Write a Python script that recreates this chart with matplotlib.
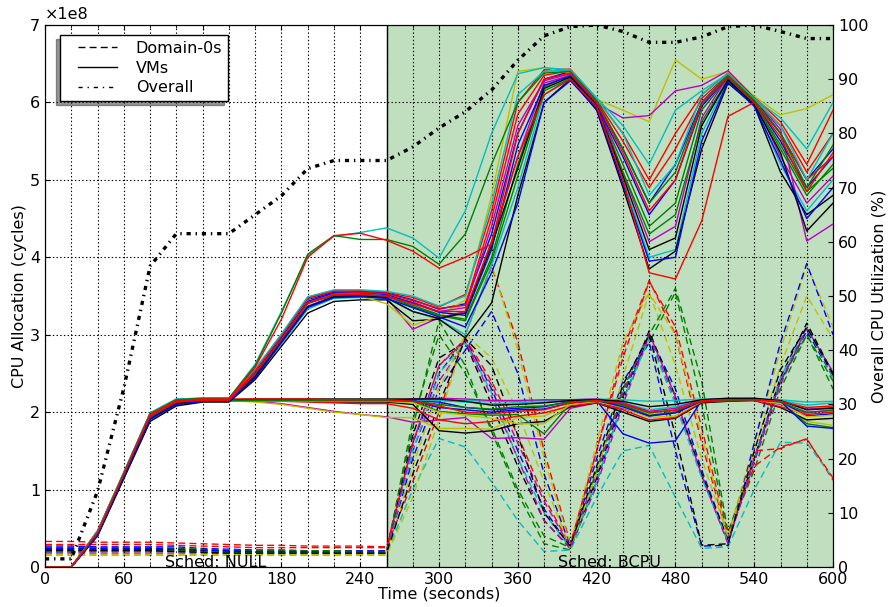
import matplotlib
matplotlib.use('Agg')
import matplotlib.pyplot as plt
from matplotlib.lines import Line2D
from matplotlib.legend_handler import HandlerLine2D
from matplotlib.ticker import FuncFormatter
import numpy as np

plt.rcParams['font.family'] = ['DejaVu Sans']
plt.rcParams['font.size'] = 11.5
plt.rcParams['lines.scale_dashes'] = False

# time axis (seconds)
time_s = list(range(0, 601, 20))

# overall CPU utilization (%)
overall_util = [1.5, 1.5, 14, 33, 55.5, 61.5, 61.5, 61.5, 65, 68.5, 73.5, 75, 75, 75,
                77.5, 81, 84, 88, 93.5, 98, 99.7, 100, 98.8, 96.8, 96.8, 97.8, 99.7,
                100, 98.8, 97.5, 97.5]

# CPU allocation, in units of 1e6 cycles
vm_upper = [
    [0,0,45,120,196,214,216,216,252,298,345,355,356,354,345,333,340,430,560,630,640,600,540,470,520,600,635,605,560,500,540],
    [0,0,43,118,193,212,215,215,248,293,340,352,352,350,338,326,320,400,520,620,636,598,520,440,470,590,632,600,540,480,520],
    [0,0,47,122,198,216,217,217,255,300,348,357,357,355,348,336,352,460,600,642,643,605,560,500,560,610,638,607,575,520,590],
    [0,0,41,115,190,210,214,214,245,288,333,347,348,347,330,320,300,390,490,610,632,595,500,400,410,560,628,598,520,460,500],
    [0,0,44,119,194,213,215,215,250,295,342,350,350,348,307,322,330,420,530,625,635,600,510,420,440,580,634,602,530,470,505],
    [0,0,40,114,188,208,213,213,242,285,328,343,345,345,318,320,296,341,480,600,630,590,490,385,408,540,625,596,510,455,480],
    [0,0,46,121,197,215,216,216,253,297,344,352,350,340,312,324,345,480,640,645,638,604,590,575,655,630,640,608,584,592,610],
    [0,0,42,117,192,211,214,214,247,292,337,350,351,349,342,330,335,440,570,628,637,599,580,583,615,622,641,606,565,421,443],
    [0,0,45,120,195,213,215,215,251,296,343,354,354,352,341,329,325,410,545,622,634,597,530,455,500,595,633,601,550,490,530],
    [0,0,43,119,194,212,215,215,249,294,341,351,352,350,336,325,318,395,505,615,631,594,510,430,455,575,630,599,545,485,515],
    [0,0,44,121,196,214,216,216,254,299,347,356,355,353,344,334,338,450,585,635,641,603,550,490,540,605,636,604,570,510,560],
    [0,0,42,116,191,211,214,214,246,291,336,349,350,348,330,321,328,415,515,618,633,596,505,410,425,570,629,597,535,434,470],
    [0,0,46,122,199,217,218,218,256,301,349,358,358,356,350,337,350,470,610,640,642,606,570,520,590,615,637,605,580,540,600],
    [0,0,41,117,191,210,214,214,244,290,335,348,349,347,335,323,310,380,470,600,628,592,495,395,400,550,627,595,525,450,490],
    [0,0,45,120,195,213,215,215,250,294,341,352,352,350,340,330,330,420,530,610,630,595,500,380,372,447,582,600,560,500,530],
]

vm_peak = [
    [0,0,46,122,199,217,218,218,262,330,402,427,432,438,425,399,460,560,637,645,642,605,560,480,520,610,637,604,570,500,560],
    [0,0,45,121,198,216,218,218,260,328,404,428,423,423,414,391,430,520,600,638,640,602,540,470,510,600,635,603,560,490,545],
    [0,0,44,120,197,215,217,217,258,320,400,428,431,422,408,386,400,417,560,630,638,600,535,460,500,598,633,600,555,485,535],
]

vm_lower = [
    [0,0,45,120,195,213,215,215,216,216,216,216,216,216,216,216,215,214,214,215,216,217,216,214,215,217,217,217,216,213,214],
    [0,0,43,118,193,212,215,215,214,211,206,201,197,194,187,190,193,166,167,165,205,212,205,195,200,213,215,216,210,199,203],
    [0,0,44,119,194,213,215,215,213,210,205,200,197,193,193,179,179,178,193,195,210,213,208,198,203,214,215,216,212,188,183],
    [0,0,42,117,192,211,214,214,214,214,214,213,213,213,210,176,173,176,185,188,207,212,200,188,192,212,214,215,206,190,192],
    [0,0,46,121,197,215,216,216,216,216,216,216,216,216,215,213,206,203,205,207,214,215,172,160,163,215,216,217,214,195,198],
    [0,0,45,120,196,214,216,216,216,216,216,216,216,216,214,201,198,196,197,172,211,214,209,196,200,215,216,216,213,185,180],
    [0,0,41,116,190,210,214,214,214,214,213,212,211,211,205,190,185,188,195,199,208,212,203,190,193,213,215,215,207,197,200],
    [0,0,44,119,195,213,215,215,216,216,216,216,216,216,216,215,213,211,212,213,215,216,212,203,207,215,216,216,215,209,212],
    [0,0,43,118,193,212,215,215,215,215,215,215,215,215,217,218,217,215,215,216,216,217,212,201,205,216,217,217,214,204,206],
    [0,0,42,117,192,211,214,214,214,214,214,214,214,214,212,200,196,192,185,185,210,214,206,193,195,214,215,216,211,194,196],
    [0,0,45,121,196,214,216,216,217,217,217,217,217,217,217,217,214,209,210,212,215,216,214,207,210,216,218,218,215,203,205],
    [0,0,43,118,194,212,215,215,215,215,215,215,215,215,215,206,203,200,203,204,212,215,207,195,199,214,215,216,214,182,179],
    [0,0,44,120,195,213,215,215,215,215,215,215,215,215,214,210,206,204,207,208,213,215,210,199,203,214,215,216,213,200,202],
    [0,0,46,122,198,216,217,217,217,217,217,216,216,216,214,208,200,198,201,203,212,215,211,200,202,215,216,216,214,206,208],
]

dom0 = [
    [27,27,26,26,26,26,24,23,22,22,21,21,21,21,160,250,295,230,150,75,25,110,215,300,230,125,35,140,240,305,245],
    [25,25,25,25,25,24,23,22,21,21,21,21,20,20,180,318,260,175,95,30,22,120,230,290,355,210,40,125,230,300,240],
    [33,33,32,32,32,31,30,29,28,28,27,27,27,26,110,200,300,388,290,150,30,150,280,370,300,160,38,150,153,166,112],
    [19,19,20,20,20,20,19,18,18,18,18,17,17,17,100,166,155,110,60,20,22,90,150,157,90,24,26,100,161,160,115],
    [23,23,23,23,23,22,21,20,20,19,19,19,19,19,150,240,290,235,160,85,25,105,210,298,215,120,32,135,235,310,250],
    [15,15,15,15,15,15,15,15,15,15,15,15,15,15,90,190,300,391,280,140,28,160,290,355,260,140,40,160,280,390,310],
    [22,22,22,22,22,22,21,20,19,19,19,18,18,18,170,270,290,210,130,60,24,115,220,305,220,120,35,140,245,315,250],
    [24,24,24,24,24,23,22,21,20,20,20,19,19,19,140,230,280,330,250,120,26,140,240,290,150,27,28,160,290,392,300],
    [21,21,21,21,21,21,20,19,18,18,18,18,18,18,190,300,250,180,100,40,25,125,230,300,360,240,45,140,240,300,230],
    [29,29,29,29,29,28,27,26,25,25,25,25,25,25,160,260,295,240,170,90,27,150,270,369,310,180,40,130,155,165,115],
    [20,20,20,20,20,20,19,18,18,18,18,18,18,18,150,250,290,225,140,70,24,110,215,295,210,115,33,140,245,310,245],
    [18,18,18,18,18,18,18,17,17,17,17,17,17,17,160,260,292,220,140,60,24,120,225,302,220,118,30,140,240,308,252],
    [16,16,16,16,16,16,16,16,16,16,16,16,16,16,130,230,300,270,200,110,25,120,245,354,300,170,38,150,260,350,295],
    [21,21,21,21,21,20,19,18,18,18,18,18,18,18,120,210,295,260,170,70,27,130,235,300,170,28,30,150,255,310,248],
]

line_colors = ['b', 'g', 'r', 'c', 'm', 'y', 'k']
vm_upper_colors = ['b', 'g', 'r', 'c', 'm', 'k', 'y', 'm', 'b', 'g', 'r', 'k', 'c', 'b', 'r']
vm_peak_colors = ['c', 'g', 'r']

fig = plt.figure(figsize=(8.9, 6.07), dpi=100)
ax = fig.add_axes([0.0506, 0.0659, 0.8854, 0.8929])

ax.axvspan(260, 600, color='g', alpha=0.25, lw=0, zorder=0)
ax.axvline(260, color='k', lw=1, zorder=1)

t = np.array(time_s)
dash_style = (0, (5, 3))
for i, s in enumerate(dom0):
    ax.plot(t, np.array(s) * 1e6, color=line_colors[i % 7], lw=1, ls=dash_style, zorder=2)
for i, s in enumerate(vm_lower):
    ax.plot(t, np.array(s) * 1e6, color=line_colors[(i + 3) % 7], lw=1, zorder=3)
for i, s in enumerate(vm_upper):
    ax.plot(t, np.array(s) * 1e6, color=vm_upper_colors[i], lw=1, zorder=3)
for i, s in enumerate(vm_peak):
    ax.plot(t, np.array(s) * 1e6, color=vm_peak_colors[i], lw=1, zorder=3)

ax.set_xlim(0, 600)
ax.set_ylim(0, 7e8)
ax.set_xticks(range(0, 601, 60))
ax.set_xticks(range(0, 601, 20), minor=True)
ax.set_yticks([i * 1e8 for i in range(8)])
ax.yaxis.set_major_formatter(FuncFormatter(lambda v, p: f'{v / 1e8:g}'))
ax.grid(True, which='both', ls=':', color='k', lw=0.8)
ax.set_axisbelow(False)
ax.tick_params(which='both', direction='in', top=True, right=False)
ax.tick_params(which='minor', length=2)
ax.set_xlabel('Time (seconds)', labelpad=0)
ax.set_ylabel('CPU Allocation (cycles)', labelpad=2)
ax.text(0, 1.005, '\u00d71e8', transform=ax.transAxes, ha='left', va='bottom')

ax.text(130, 0.0, 'Sched: NULL', ha='center', va='baseline', zorder=6)
ax.text(430, 0.0, 'Sched: BCPU', ha='center', va='baseline', zorder=6)

ax2 = ax.twinx()
ax2.plot(t, overall_util, color='k', lw=2.4, ls=(0, (3, 3.5, 1, 3.5)))
ax2.set_ylim(0, 100)
ax2.set_yticks(range(0, 101, 10))
ax2.tick_params(direction='in')
ax2.set_ylabel('Overall CPU Utilization (%)', labelpad=2)

handles = [Line2D([], [], color='k', lw=1, ls=dash_style),
           Line2D([], [], color='k', lw=1),
           Line2D([], [], color='k', lw=1, ls=(0, (3, 3.5, 1, 3.5)))]
leg = ax2.legend(handles, ['Domain-0s', 'VMs', 'Overall'], loc='upper left',
                 bbox_to_anchor=(0.019, 0.981), borderaxespad=0, fancybox=False,
                 framealpha=1, edgecolor='k',
                 shadow={'ox': -3, 'oy': -3, 'shade': 0.8},
                 borderpad=0.35, labelspacing=0.3, handlelength=3.2,
                 handletextpad=1.2,
                 handler_map={Line2D: HandlerLine2D(xpad=0.8)})
leg.get_frame().set_linewidth(1)

fig.savefig('out.png', dpi=100)
